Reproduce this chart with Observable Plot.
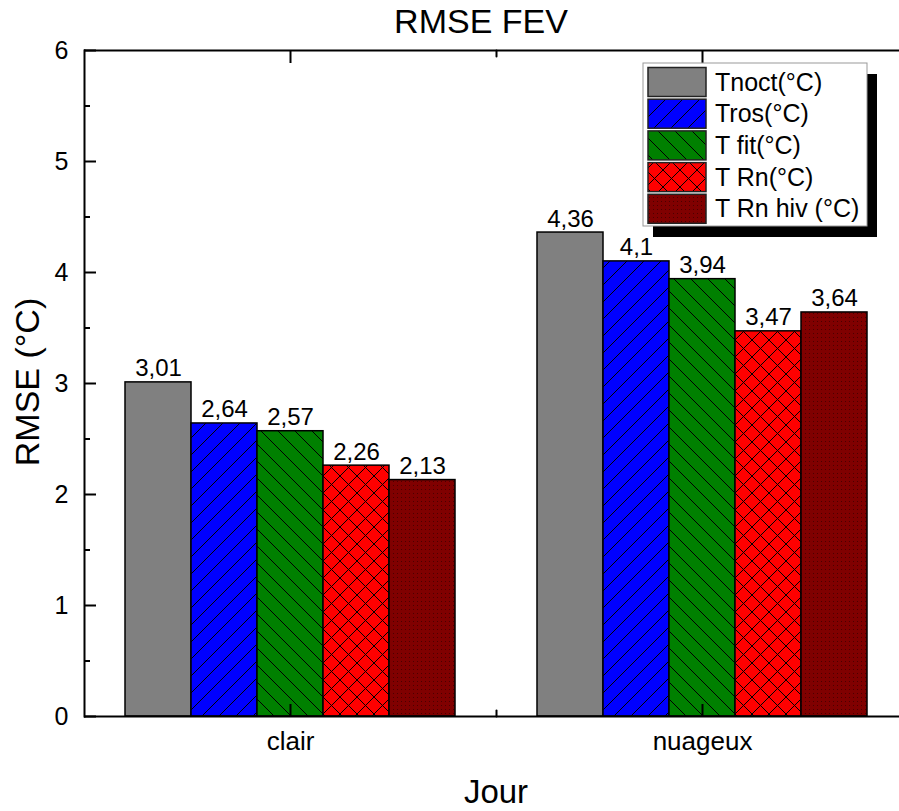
<!DOCTYPE html>
<html>
<head>
<meta charset="utf-8">
<script src="https://cdn.jsdelivr.net/npm/d3@7"></script>
<script src="https://cdn.jsdelivr.net/npm/@observablehq/plot@0.6"></script>
<style>
  html, body { margin: 0; padding: 0; background: #fff; }
  #chart { position: relative; width: 899px; height: 811px; overflow: hidden; }
  #chart svg { position: absolute; left: 0; top: 0; }
</style>
</head>
<body>
<div id="chart"></div>
<script>
// RMSE by day type for each temperature estimate
const categories = ["clair", "nuageux"];
const series = ["Tnoct(°C)", "Tros(°C)", "T fit(°C)", "T Rn(°C)", "T Rn hiv (°C)"];
const clairValues = [3.01, 2.64, 2.57, 2.26, 2.13];
const nuageuxValues = [4.36, 4.1, 3.94, 3.47, 3.64];
const yTicks = [0, 1, 2, 3, 4, 5, 6];
const yMinorTicks = [0.5, 1.5, 2.5, 3.5, 4.5, 5.5];
const seriesColors = ["#808080", "#0000ff", "#008000", "#ff0000", "#800000"];
const titleText = "RMSE FEV";
const yLabel = "RMSE (°C)";
const xLabel = "Jour";

const valuesByCategory = [clairValues, nuageuxValues];
const rows = categories.flatMap((category, ci) =>
  series.map((s, si) => ({category, series: s, value: valuesByCategory[ci][si]}))
);

const font = "'Liberation Sans', Arial, sans-serif";
const W = 899, H = 811;
const container = document.getElementById("chart");

// Short straight line used for the inward minor ticks on the category axes
const tickShape = {draw(ctx, l) { ctx.moveTo(0, 0); ctx.lineTo(0, -l); }};

const plot = Plot.plot({
  width: W,
  height: H,
  marginLeft: 84,
  marginRight: -9,
  marginTop: 50,
  marginBottom: 95,
  style: {fontFamily: font, fontSize: "25px", color: "black", background: "transparent"},
  fx: {domain: categories, padding: 0, paddingInner: 0, paddingOuter: 0},
  x: {domain: series, paddingInner: 0, paddingOuter: 0.62, axis: null},
  y: {domain: [0, 6]},
  marks: [
    ...series.map((s, si) => Plot.barY(rows.filter(d => d.series === s), {
      fx: "category", x: "series", y: "value",
      fill: `url(#fill-${si})`, stroke: "black", strokeWidth: 1.5
    })),
    Plot.text(rows, {
      fx: "category", x: "series", y: "value",
      text: d => String(d.value).replace(".", ","),
      lineAnchor: "bottom", dy: -6, fontSize: 24, fill: "black"
    }),
    Plot.ruleY([0], {strokeWidth: 2}),
    Plot.ruleY([6], {strokeWidth: 2}),
    Plot.frame({anchor: "left", facetAnchor: "left", strokeWidth: 2}),
    Plot.axisY(yTicks, {anchor: "left", tickSize: -12, tickPadding: 28, strokeWidth: 2, fontSize: 25,
      tickFormat: d => String(d), label: null}),
    Plot.axisY(yMinorTicks, {anchor: "left", tickSize: -6, strokeWidth: 2, tickFormat: () => "", label: null}),
    Plot.axisFx({anchor: "bottom", tickSize: -12, tickPadding: 27, strokeWidth: 2, fontSize: 26, label: null}),
    Plot.axisFx({anchor: "top", tickSize: -12, strokeWidth: 2, tickFormat: () => "", label: null}),
    Plot.vector(["nuageux"], {fx: d => d, frameAnchor: "bottom-left", length: 6, rotate: 0, anchor: "start",
      shape: tickShape, stroke: "black", strokeWidth: 2}),
    Plot.vector(["nuageux"], {fx: d => d, frameAnchor: "top-left", length: 6, rotate: 180, anchor: "start",
      shape: tickShape, stroke: "black", strokeWidth: 2})
  ]
});
container.appendChild(plot);

// Overlay: fill patterns, title, axis titles and legend
const svg = d3.select(container).append("svg")
  .attr("width", W).attr("height", H)
  .style("pointer-events", "none")
  .style("font-family", font);

const defs = svg.append("defs");
const S = 17;
const hatchPaths = [
  null,
  `M0,${S} L${S},0 M-3,3 L3,-3 M${S - 3},${S + 3} L${S + 3},${S - 3}`,
  `M0,0 L${S},${S} M-3,${S - 3} L3,${S + 3} M${S - 3},-3 L${S + 3},3`,
  `M0,${S} L${S},0 M-3,3 L3,-3 M${S - 3},${S + 3} L${S + 3},${S - 3} M0,0 L${S},${S} M-3,${S - 3} L3,${S + 3} M${S - 3},-3 L${S + 3},3`,
  null
];
seriesColors.forEach((c, i) => {
  const size = i === 4 ? 4 : S;
  const p = defs.append("pattern")
    .attr("id", `fill-${i}`)
    .attr("patternUnits", "userSpaceOnUse")
    .attr("width", size).attr("height", size);
  p.append("rect").attr("width", size).attr("height", size).attr("fill", c);
  if (hatchPaths[i]) {
    p.append("path").attr("d", hatchPaths[i]).attr("stroke", "black").attr("stroke-width", 1).attr("fill", "none");
  }
  if (i === 4) {
    p.append("rect").attr("x", 1).attr("y", 1).attr("width", 1).attr("height", 1).attr("fill", "#4a0000");
  }
});

svg.append("text")
  .attr("x", 481).attr("y", 33)
  .attr("text-anchor", "middle")
  .attr("font-size", 34)
  .text(titleText);

svg.append("text")
  .attr("transform", "translate(39,382) rotate(-90)")
  .attr("text-anchor", "middle")
  .attr("font-size", 34)
  .text(yLabel);

svg.append("text")
  .attr("x", 496).attr("y", 803)
  .attr("text-anchor", "middle")
  .attr("font-size", 33)
  .text(xLabel);

// Legend box with drop shadow
const lg = svg.append("g");
const lx = 643, ly = 63, lw = 224, lh = 163;
lg.append("rect").attr("x", lx + 10).attr("y", ly + 11).attr("width", lw).attr("height", lh).attr("fill", "black");
lg.append("rect").attr("x", lx).attr("y", ly).attr("width", lw).attr("height", lh)
  .attr("fill", "white").attr("stroke", "#999").attr("stroke-width", 1);
series.forEach((s, i) => {
  const top = 67.5 + i * 31.7;
  lg.append("rect").attr("x", 648).attr("y", top).attr("width", 58).attr("height", 29)
    .attr("fill", `url(#fill-${i})`).attr("stroke", "#222").attr("stroke-width", 1.5);
  lg.append("text").attr("x", 715).attr("y", top + 23)
    .attr("font-size", 25).text(s);
});
</script>
</body>
</html>
